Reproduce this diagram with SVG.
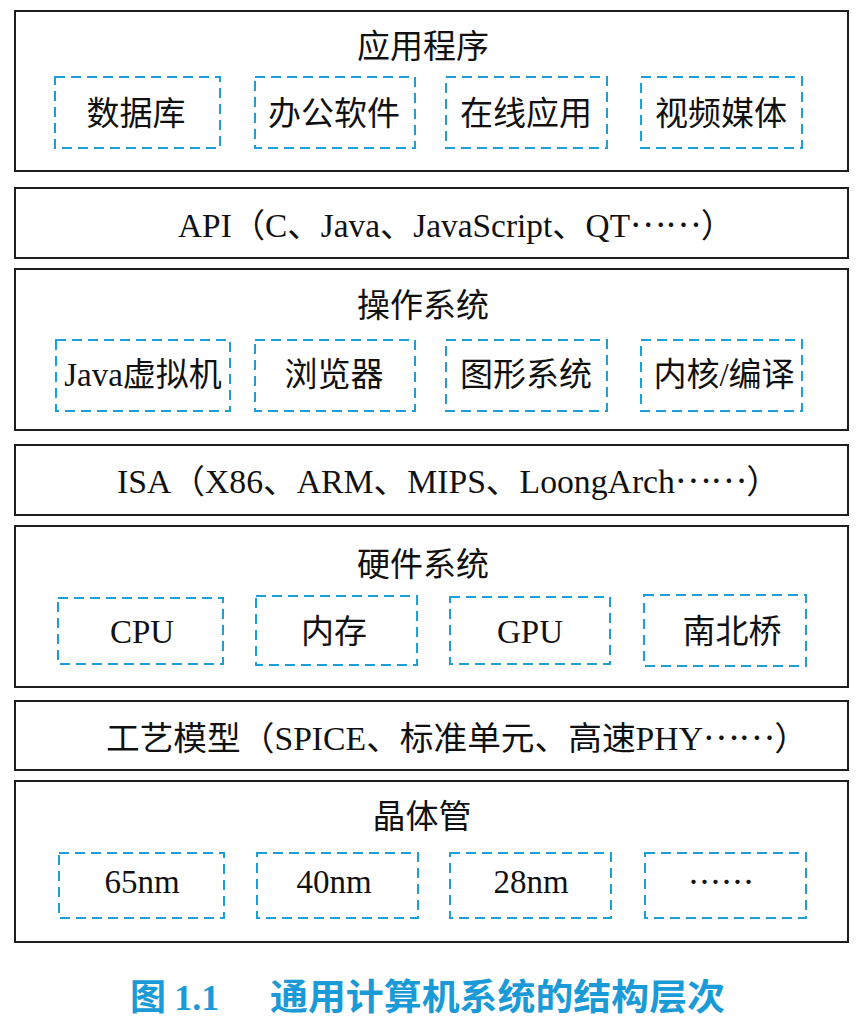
<svg xmlns="http://www.w3.org/2000/svg" width="862" height="1026" viewBox="0 0 862 1026">
  <defs>
    <style>
      .layer { fill: #ffffff; stroke: #1e1e1e; stroke-width: 2; }
      .item { fill: none; stroke: #1a9fd8; stroke-width: 2; stroke-dasharray: 10 6; }
      text { font-family: "Liberation Serif", "Noto Sans CJK SC", serif; fill: #111111; font-size: 33px; }
      .c { text-anchor: middle; }
      .dots { font-family: "Noto Sans CJK SC", sans-serif; }
      .cap { font-family: "Noto Sans CJK SC", sans-serif; fill: #1a9ad6; font-weight: bold; font-size: 36px; }
      .capnum { font-family: "Liberation Serif", serif; font-weight: bold; }
    </style>
  </defs>
  <rect width="862" height="1026" fill="#ffffff"/>

  <g id="connectors"></g>

  <g id="layer-app">
    <rect class="layer" x="15" y="11" width="833" height="160"/>
    <text class="c" x="423" y="58">应用程序</text>
    <g id="app-db"><rect class="item" x="55" y="77" width="165" height="71"/><text class="c" x="136" y="125">数据库</text></g>
    <g id="app-office"><rect class="item" x="255" y="77" width="160" height="71"/><text class="c" x="334" y="125">办公软件</text></g>
    <g id="app-online"><rect class="item" x="446" y="77" width="161" height="71"/><text class="c" x="526" y="125">在线应用</text></g>
    <g id="app-media"><rect class="item" x="641" y="77" width="161" height="71"/><text class="c" x="721" y="125">视频媒体</text></g>
  </g>

  <g id="layer-api">
    <rect class="layer" x="15" y="188" width="833" height="70"/>
    <text x="178" y="237" textLength="556" lengthAdjust="spacingAndGlyphs">API（C、Java、JavaScript、QT<tspan class="dots" dy="-10">……</tspan><tspan dy="10">）</tspan></text>
  </g>

  <g id="layer-os">
    <rect class="layer" x="15" y="269" width="833" height="161"/>
    <text class="c" x="423" y="317">操作系统</text>
    <g id="os-jvm"><rect class="item" x="56" y="340" width="174" height="71"/><text class="c" x="143" y="386">Java虚拟机</text></g>
    <g id="os-browser"><rect class="item" x="255" y="340" width="160" height="71"/><text class="c" x="334" y="386">浏览器</text></g>
    <g id="os-graphics"><rect class="item" x="446" y="340" width="161" height="71"/><text class="c" x="526" y="386">图形系统</text></g>
    <g id="os-kernel"><rect class="item" x="641" y="340" width="161" height="71"/><text class="c" x="724" y="386">内核/编译</text></g>
  </g>

  <g id="layer-isa">
    <rect class="layer" x="15" y="445" width="833" height="70"/>
    <text x="117" y="493" textLength="663" lengthAdjust="spacingAndGlyphs">ISA（X86、ARM、MIPS、LoongArch<tspan class="dots" dy="-10">……</tspan><tspan dy="10">）</tspan></text>
  </g>

  <g id="layer-hw">
    <rect class="layer" x="15" y="526" width="833" height="161"/>
    <text class="c" x="423" y="576">硬件系统</text>
    <g id="hw-cpu"><rect class="item" x="58" y="598" width="165" height="66"/><text class="c" x="142" y="643">CPU</text></g>
    <g id="hw-mem"><rect class="item" x="256" y="596" width="161" height="69"/><text class="c" x="334" y="643">内存</text></g>
    <g id="hw-gpu"><rect class="item" x="450" y="597" width="160" height="67"/><text class="c" x="530" y="643">GPU</text></g>
    <g id="hw-bridge"><rect class="item" x="644" y="595" width="162" height="71"/><text class="c" x="732" y="643">南北桥</text></g>
  </g>

  <g id="layer-process">
    <rect class="layer" x="15" y="701" width="833" height="69"/>
    <text x="106" y="750" textLength="702" lengthAdjust="spacingAndGlyphs">工艺模型（SPICE、标准单元、高速PHY<tspan class="dots" dy="-10">……</tspan><tspan dy="10">）</tspan></text>
  </g>

  <g id="layer-transistor">
    <rect class="layer" x="15" y="781" width="833" height="161"/>
    <text class="c" x="422" y="828">晶体管</text>
    <g id="tr-65"><rect class="item" x="59" y="853" width="165" height="65"/><text class="c" x="142" y="893">65nm</text></g>
    <g id="tr-40"><rect class="item" x="257" y="853" width="161" height="65"/><text class="c" x="334" y="893">40nm</text></g>
    <g id="tr-28"><rect class="item" x="450" y="853" width="161" height="65"/><text class="c" x="531" y="893">28nm</text></g>
    <g id="tr-more"><rect class="item" x="645" y="853" width="161" height="65"/><text class="c dots" x="721" y="894">……</text></g>
  </g>

  <g id="caption">
    <text class="cap" x="130" y="1010">图 <tspan class="capnum">1.1</tspan></text>
    <text class="cap" x="270" y="1010" textLength="455" lengthAdjust="spacingAndGlyphs">通用计算机系统的结构层次</text>
  </g>
</svg>
